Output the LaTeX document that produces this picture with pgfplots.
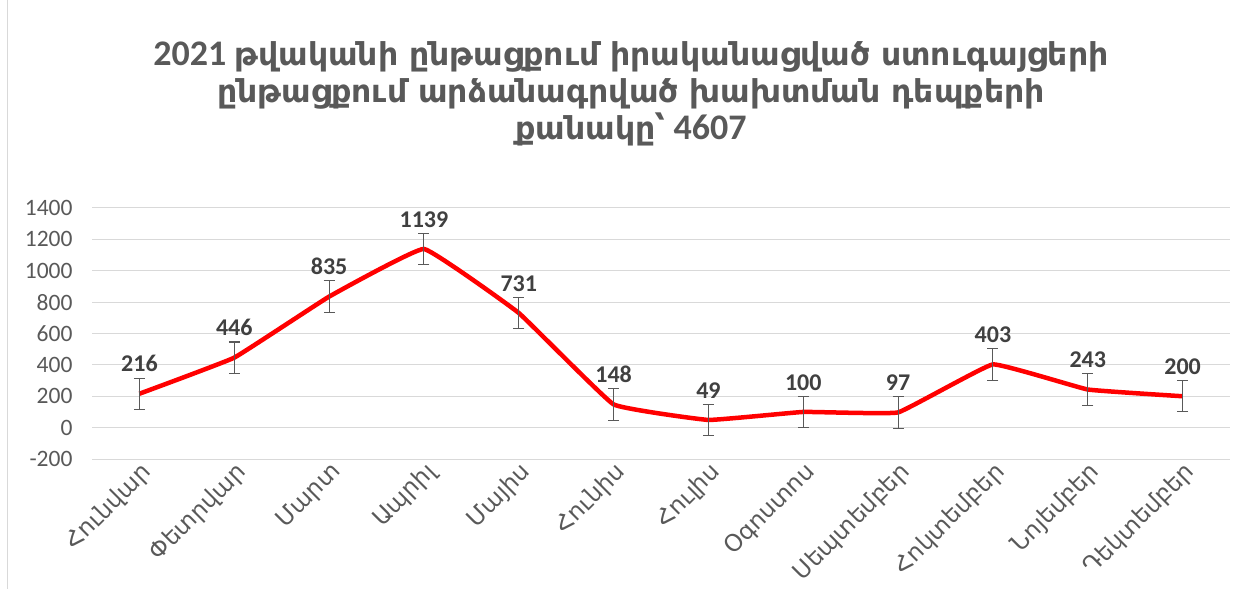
\documentclass[border=0pt]{standalone}
\usepackage{fontspec}
\setmainfont{Carlito}
\newfontfamily\arm{DejaVu Sans}
\usepackage{pgfplots}
\pgfplotsset{compat=1.18}
\definecolor{gridgray}{HTML}{D9D9D9}
\definecolor{txtgray}{HTML}{595959}
\definecolor{lblgray}{HTML}{404040}
\begin{document}
\begin{tikzpicture}
\path[use as bounding box] (0,0) rectangle (1258bp,589bp);
\draw[gridgray, line width=1bp] (7bp,0) -- (7bp,589bp);
\node[align=center, text=txtgray, font=\fontsize{36bp}{37bp}\selectfont\bfseries] at (631bp,495bp)
 {2021 {\arm\fontsize{31.5bp}{37bp}\selectfont թվականի ընթացքում իրականացված ստուգայցերի}\\
  {\arm\fontsize{31.5bp}{37bp}\selectfont ընթացքում արձանագրված  խախտման դեպքերի}\\
  {\arm\fontsize{31.5bp}{37bp}\selectfont քանակը՝} 4607};
\begin{axis}[
  at={(92bp,130bp)}, anchor=south west,
  scale only axis, width=1138bp, height=251bp,
  xmin=-0.5, xmax=11.5, ymin=-200, ymax=1400,
  ytick={-200,0,200,400,600,800,1000,1200,1400},
  xtick={0,...,11},
  xticklabels={Հունվար,Փետրվար,Մարտ,Ապրիլ,Մայիս,Հունիս,Հուլիս,Օգոստոս,Սեպտեմբեր,Հոկտեմբեր,Նոյեմբեր,Դեկտեմբեր},
  xticklabel style={rotate=45, anchor=north east, font=\arm\fontsize{23.5bp}{25bp}\selectfont, text=txtgray, yshift=0bp, xshift=0bp, inner sep=1bp},
  yticklabel style={font=\fontsize{23.5bp}{25bp}\selectfont, text=txtgray, xshift=-16bp},
  /pgf/number format/assume math mode=true,
  /pgf/number format/1000 sep={},
  ymajorgrids, grid style={draw=gridgray, line width=1bp},
  axis line style={draw=none},
  major tick length=0pt,
  clip=false,
  nodes near coords,
  every node near coord/.append style={font=\fontsize{24bp}{26bp}\selectfont\bfseries, text=lblgray, anchor=south, yshift=16bp},
]
\addplot[red, line width=4.5bp, smooth, tension=0.15,
  error bars/.cd, y dir=both, y fixed=100,
  error bar style={draw=txtgray, line width=1.1bp},
  error mark options={rotate=90, mark size=5.5bp, draw=txtgray, line width=1.1bp}]
 coordinates {(0,216) (1,446) (2,835) (3,1139) (4,731) (5,148) (6,49) (7,100) (8,97) (9,403) (10,243) (11,200)};
\end{axis}
\end{tikzpicture}
\end{document}
